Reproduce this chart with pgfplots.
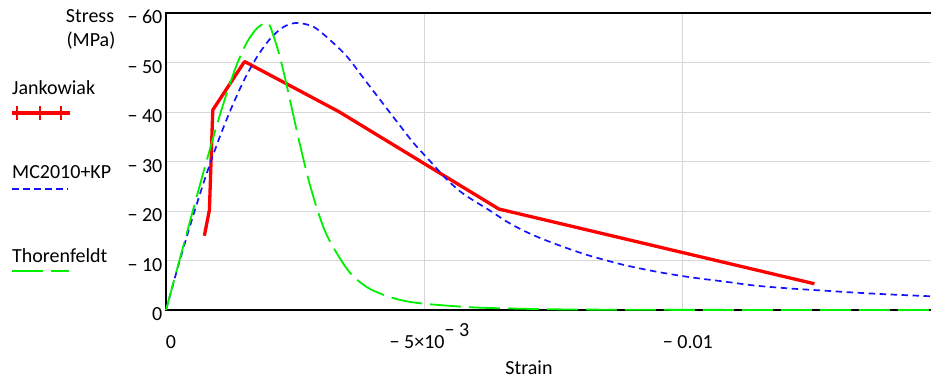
\documentclass[border=0pt]{standalone}
\usepackage{pgfplots}
\pgfplotsset{compat=1.18}
\usepackage{fontspec}
\setmainfont{Carlito}
\definecolor{jred}{RGB}{255,0,0}
\definecolor{mcblue}{RGB}{20,20,255}
\definecolor{thgreen}{RGB}{0,240,0}
\definecolor{gridgray}{RGB}{215,215,215}
\begin{document}
\fontsize{20}{24}\selectfont
\begin{tikzpicture}[x=1pt,y=1pt]
\begin{axis}[
  at={(166pt,68pt)}, anchor=south west,
  scale only axis, width=765pt, height=297pt,
  x dir=reverse, y dir=reverse,
  xmin=-0.0148, xmax=0, ymin=-60, ymax=0,
  clip=false,
  axis line style={draw=none},
  major tick length=0pt,
  tick style={draw=none},
  grid=major,
  major grid style={gridgray, line width=1pt},
  xtick={0,-0.005,-0.01},
  xticklabels={0, {− 5×10\raisebox{12pt}{− 3}}, {− 0.01}},
  ytick={0,-10,-20,-30,-40,-50,-60},
  yticklabels={0,{− 10},{− 20},{− 30},{− 40},{− 50},{− 60}},
  xticklabel style={anchor=base, inner sep=0pt, yshift=-38pt, xshift=5pt},
  yticklabel style={anchor=base east, inner sep=0pt, xshift=-3.5pt, yshift=-10.5pt},
  scaled x ticks=false,
]
\draw[line width=1.8pt, line cap=rect] (axis description cs:1,0) -- (axis description cs:0,0) -- (axis description cs:0,1) -- (axis description cs:1,1);
% Jankowiak
\addplot[jred, line width=3.3pt, line join=round] coordinates {
(-0.000742,-15.0) (-0.00084,-20.2) (-0.000905,-40.4) (-0.00152,-50.2)
(-0.00334,-40.1) (-0.00644,-20.4) (-0.012545,-5.3)};
% MC2010+KP
\addplot[mcblue, line width=1.7pt, dash pattern=on 6.5pt off 4.5pt, smooth] coordinates {
(0,0) (-0.000253,-9.5) (-0.000506,-18.4) (-0.000759,-26.7) (-0.001012,-34.2)
(-0.001265,-40.8) (-0.001518,-46.6) (-0.001771,-51.3) (-0.002024,-54.9)
(-0.002277,-57.2) (-0.00253,-58.0) (-0.002855,-57.2) (-0.003178,-54.5)
(-0.003502,-51.2) (-0.003824,-46.8) (-0.004147,-42.4) (-0.004471,-38.0)
(-0.004793,-33.7) (-0.005116,-30.0) (-0.00544,-26.3) (-0.005762,-23.4)
(-0.006279,-20.0) (-0.006602,-17.8) (-0.006924,-16.0) (-0.007248,-14.5)
(-0.007571,-13.2) (-0.007893,-12.0) (-0.008217,-10.9) (-0.008862,-9.1)
(-0.009509,-7.7) (-0.010155,-6.6) (-0.0108,-5.75) (-0.01138,-4.95)
(-0.01203,-4.38) (-0.01267,-3.95) (-0.01332,-3.52) (-0.01397,-3.16)
(-0.0148,-2.77)};
% Thorenfeldt
\addplot[thgreen, line width=1.8pt, dash pattern=on 31pt off 8pt, smooth] coordinates {
(0,0) (-0.000197,-7.6) (-0.000394,-15.2) (-0.000591,-22.8) (-0.000788,-30.2)
(-0.000985,-37.4) (-0.001182,-44.0) (-0.001379,-49.8) (-0.001576,-54.25)
(-0.001773,-57.05) (-0.00197,-58.0) (-0.002069,-55.7) (-0.002167,-52.5)
(-0.002266,-48.5) (-0.002364,-44.05) (-0.002561,-34.8) (-0.002758,-26.3)
(-0.002955,-19.4) (-0.003152,-14.25) (-0.003546,-7.7) (-0.00394,-4.3)
(-0.004433,-2.3) (-0.004925,-1.35) (-0.00591,-0.55) (-0.0069,-0.25)
(-0.0079,-0.1) (-0.00985,-0.03) (-0.0148,0)};
\end{axis}
% axis title and labels
\node[anchor=base] at (90,355) {Stress};
\node[anchor=base] at (91,331) {(MPa)};
\node[anchor=base] at (529,4) {Strain};
% legend
\node[anchor=base west, inner sep=0pt] at (12,283) {Jankowiak};
\draw[jred, line width=3.5pt] (12,265) -- (70,265);
\foreach \xx in {17,40,61} {\draw[jred, line width=1.8pt] (\xx,258) -- (\xx,272);}
\node[anchor=base west, inner sep=0pt] at (12,200) {MC2010+KP};
\draw[mcblue, line width=1.7pt, dash pattern=on 6.5pt off 4.5pt] (12,189) -- (68,189);
\node[anchor=base west, inner sep=0pt] at (12,116) {Thorenfeldt};
\draw[thgreen, line width=1.8pt, dash pattern=on 31pt off 8pt] (12,107) -- (69,107);
\pgfresetboundingbox
\path (0,0) rectangle (931,378);
\end{tikzpicture}
\end{document}
